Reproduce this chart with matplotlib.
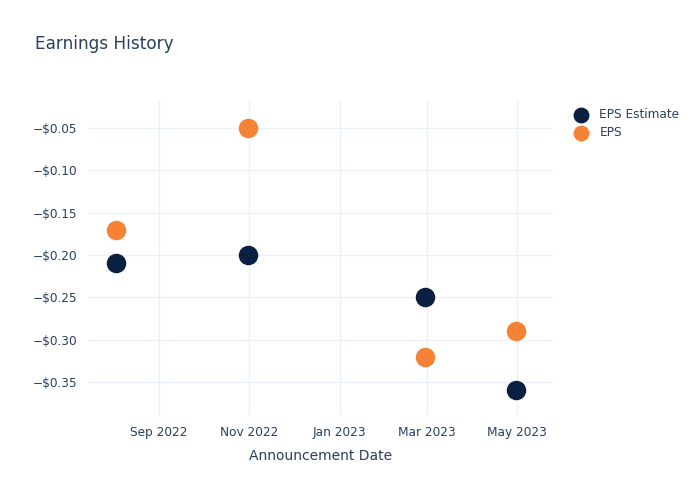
import matplotlib.pyplot as plt
import matplotlib.dates as mdates
import numpy as np

dates = np.array(["2022-08-03", "2022-10-31", "2023-02-28", "2023-04-30"], dtype="datetime64[D]")
eps_estimate = [-0.21, -0.20, -0.25, -0.36]
eps_actual = [-0.17, -0.05, -0.32, -0.29]

text_color = "#2a3f5f"
grid_color = "#ebf0f8"

fig = plt.figure(figsize=(7, 5), dpi=100)
ax = fig.add_axes([0.1257, 0.17, 0.664, 0.63])

ax.scatter(dates, eps_estimate, s=170, color="#0b1f41", label="EPS Estimate", zorder=3)
ax.scatter(dates, eps_actual, s=170, color="#f58235", label="EPS", zorder=3)

ax.set_xlim(np.datetime64("2022-07-15"), np.datetime64("2023-05-25"))
ax.set_ylim(-0.389, -0.017)

ax.xaxis.set_major_locator(mdates.MonthLocator(bymonth=[1, 3, 5, 7, 9, 11]))
ax.xaxis.set_major_formatter(mdates.DateFormatter("%b %Y"))
ax.set_yticks([-0.05, -0.10, -0.15, -0.20, -0.25, -0.30, -0.35])
ax.yaxis.set_major_formatter(plt.FuncFormatter(lambda v, p: "\u2212$%.2f" % abs(v)))

ax.grid(True, color=grid_color, linewidth=1)
ax.set_axisbelow(True)
for s in ax.spines.values():
    s.set_visible(False)
ax.tick_params(length=0, colors=text_color, labelsize=8.7, pad=8)

ax.set_xlabel("Announcement Date", color=text_color, fontsize=10, labelpad=7)
fig.text(0.05, 0.912, "Earnings History", color=text_color, fontsize=12.2, va="center")

leg = ax.legend(loc="upper left", bbox_to_anchor=(1.025, 0.99), frameon=False,
                fontsize=8.7, labelcolor=text_color, handletextpad=0.5,
                borderaxespad=0, labelspacing=0.45, markerscale=0.8)

plt.savefig("out.png", dpi=100)
